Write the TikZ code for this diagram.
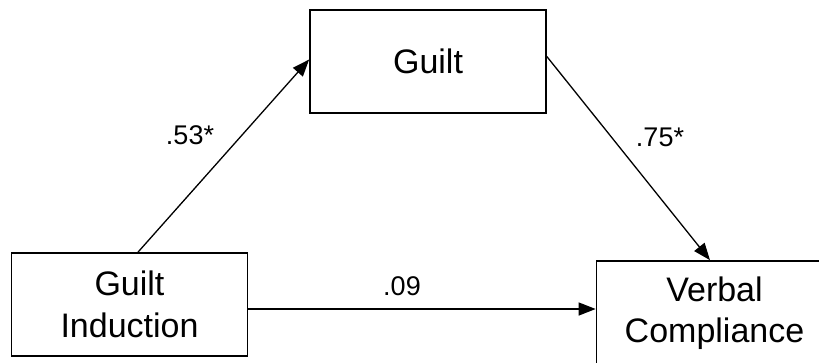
\documentclass[tikz,border=0pt]{standalone}
\usepackage{fontspec}
\setmainfont{Liberation Sans}
\usetikzlibrary{arrows.meta}
\begin{document}
\begin{tikzpicture}[x=1pt,y=-1pt,
  box/.style={draw, line width=1.7pt, rectangle, minimum width=236pt, minimum height=103pt,
    align=center, font=\fontsize{34}{41.5}\selectfont, inner sep=0pt},
  arr/.style={line width=1.3pt, -{Triangle[length=17pt,width=13pt]}},
  coef/.style={font=\fontsize{27}{30}\selectfont, inner sep=0pt}]
  \useasboundingbox (0,0) rectangle (819,362);
  \clip (0,0) rectangle (819,362);
  % variables
  \node[box] (g)  at (428,61.5)  {Guilt};
  \node[box] (gi) at (129.5,304.5) {Guilt\\Induction};
  \node[box, minimum height=105pt] (vc) at (714.5,313.5) {\raisebox{1.5pt}{\begin{tabular}{@{}c@{}}Verbal\\Compliance\end{tabular}}};
  % paths
  \coordinate (giout) at ([yshift=-4.5pt]gi.east);
  \draw[arr] ([xshift=8.5pt]gi.north) -- ([yshift=2pt]g.west);
  \draw[arr] ([yshift=5pt]g.east) -- ([xshift=-4.5pt]vc.north);
  \draw[arr] (giout) -- (giout -| vc.west);
  % coefficients
  \node[coef] (a) at (190,135) {.53*};
  \node[coef] (b) at (660,137) {.75*};
  \node[coef] (c) at (402,286) {.09};
\end{tikzpicture}
\end{document}
